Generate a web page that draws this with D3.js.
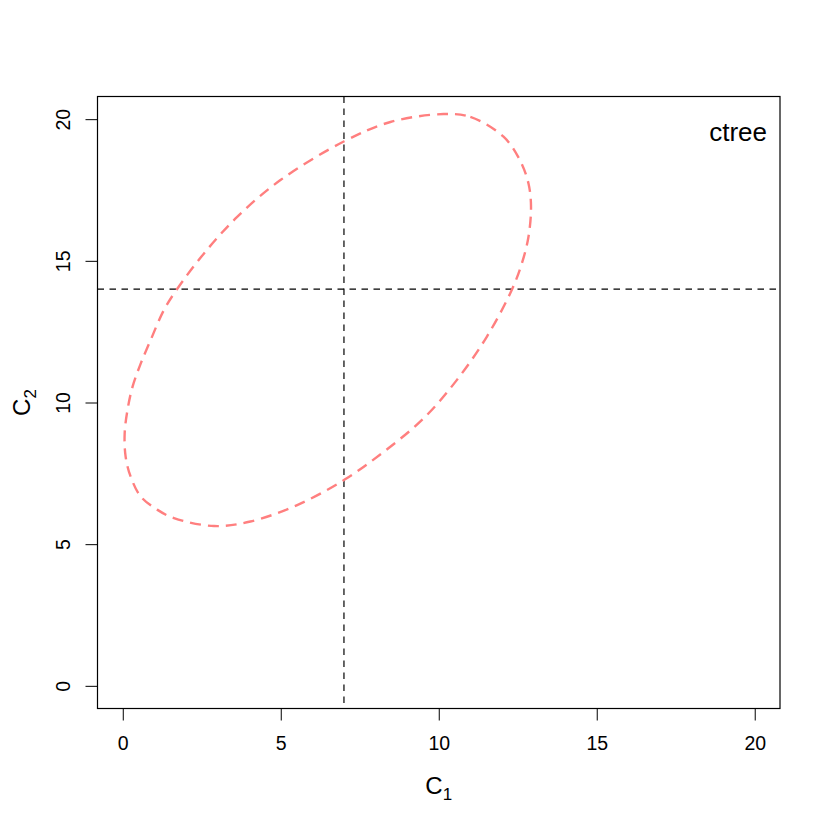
<!DOCTYPE html>
<html>
<head>
<meta charset="utf-8">
<script src="https://cdn.jsdelivr.net/npm/d3@7"></script>
<style>
  body { margin: 0; background: #fff; }
  svg text { font-family: 'Liberation Sans', Arial, sans-serif; fill: #000; }
</style>
</head>
<body>
<div id="chart"></div>
<script>
// ellipse outline, points (C1, C2), clockwise from the top
const ellipseC1 = [10.15, 11.0, 12.05, 12.57, 12.84, 12.92, 12.84, 12.63, 12.31, 11.52, 10.57, 9.52, 8.26, 7.01, 5.52, 4.04, 2.89, 1.62, 1.10, 0.57, 0.25, 0.09, 0.06, 0.15, 0.31, 0.57, 0.88, 1.30, 1.71, 2.57, 3.62, 4.99, 7.01, 8.47];
const ellipseC2 = [20.18, 20.08, 19.38, 18.55, 17.73, 16.91, 15.85, 14.91, 13.97, 12.32, 10.79, 9.44, 8.26, 7.27, 6.38, 5.80, 5.64, 5.92, 6.21, 6.68, 7.38, 8.09, 8.91, 9.74, 10.56, 11.38, 12.20, 13.26, 13.99, 15.26, 16.55, 17.85, 19.22, 19.90];
const xTicks = [0, 5, 10, 15, 20];
const yTicks = [0, 5, 10, 15, 20];
const cutC1 = 7;
const cutC2 = 14;
const panelLabel = 'ctree';

const width = 830, height = 830;
const plot = { left: 97.5, right: 780, top: 96.5, bottom: 708.5 };

const svg = d3.select('#chart').append('svg')
  .attr('width', width)
  .attr('height', height);

svg.append('rect').attr('width', width).attr('height', height).attr('fill', '#fff');

const x = d3.scaleLinear().domain([-0.8, 20.8]).range([plot.left, plot.right]);
const y = d3.scaleLinear().domain([-0.8, 20.8]).range([plot.bottom, plot.top]);

// x axis
const gx = svg.append('g')
  .attr('transform', 'translate(0,' + plot.bottom + ')')
  .call(d3.axisBottom(x).tickValues(xTicks).tickSize(12).tickPadding(16).tickSizeOuter(0));
gx.select('.domain').remove();
gx.selectAll('line').attr('stroke', '#000');
gx.selectAll('text').attr('font-size', 19.5).attr('fill', '#000');

// y axis, labels turned like R's default
const gy = svg.append('g')
  .attr('transform', 'translate(' + plot.left + ',0)')
  .call(d3.axisLeft(y).tickValues(yTicks).tickSize(12).tickSizeOuter(0));
gy.select('.domain').remove();
gy.selectAll('line').attr('stroke', '#000');
gy.selectAll('text')
  .attr('transform', 'rotate(-90)')
  .attr('x', 0)
  .attr('y', -35)
  .attr('dy', null)
  .attr('dominant-baseline', 'central')
  .attr('text-anchor', 'middle')
  .attr('font-size', 19.5)
  .attr('fill', '#000');

// cut lines
svg.append('clipPath').attr('id', 'plotClip')
  .append('rect')
  .attr('x', plot.left).attr('y', plot.top)
  .attr('width', plot.right - plot.left).attr('height', plot.bottom - plot.top);

const inner = svg.append('g').attr('clip-path', 'url(#plotClip)');

inner.append('line')
  .attr('x1', x(cutC1)).attr('x2', x(cutC1))
  .attr('y1', plot.top).attr('y2', plot.bottom)
  .attr('stroke', '#000').attr('stroke-width', 1.2)
  .attr('stroke-dasharray', '6.5,5.5');

inner.append('line')
  .attr('x1', plot.left).attr('x2', plot.right)
  .attr('y1', y(cutC2)).attr('y2', y(cutC2))
  .attr('stroke', '#000').attr('stroke-width', 1.2)
  .attr('stroke-dasharray', '6.5,5.5');

// ellipse
const pts = ellipseC1.map((d, i) => [d, ellipseC2[i]]);
const line = d3.line()
  .x((d) => x(d[0]))
  .y((d) => y(d[1]))
  .curve(d3.curveCatmullRomClosed.alpha(0.5));

inner.append('path')
  .datum(pts)
  .attr('d', line)
  .attr('fill', 'none')
  .attr('stroke', '#ff7f7f')
  .attr('stroke-width', 2.4)
  .attr('stroke-dasharray', '11,7');

// box
svg.append('rect')
  .attr('x', plot.left).attr('y', plot.top)
  .attr('width', plot.right - plot.left).attr('height', plot.bottom - plot.top)
  .attr('fill', 'none').attr('stroke', '#000').attr('stroke-width', 1.2);

// panel label
svg.append('text')
  .attr('x', 767).attr('y', 141)
  .attr('text-anchor', 'end')
  .attr('font-size', 26)
  .text(panelLabel);

// axis titles
const xTitle = svg.append('text')
  .attr('x', (plot.left + plot.right) / 2)
  .attr('y', 794)
  .attr('text-anchor', 'middle')
  .attr('font-size', 24);
xTitle.append('tspan').text('C');
xTitle.append('tspan').attr('font-size', 17).attr('dy', 6).text('1');

const yTitle = svg.append('text')
  .attr('transform', 'translate(30,' + (plot.top + plot.bottom) / 2 + ') rotate(-90)')
  .attr('text-anchor', 'middle')
  .attr('font-size', 24);
yTitle.append('tspan').text('C');
yTitle.append('tspan').attr('font-size', 17).attr('dy', 6).text('2');
</script>
</body>
</html>
